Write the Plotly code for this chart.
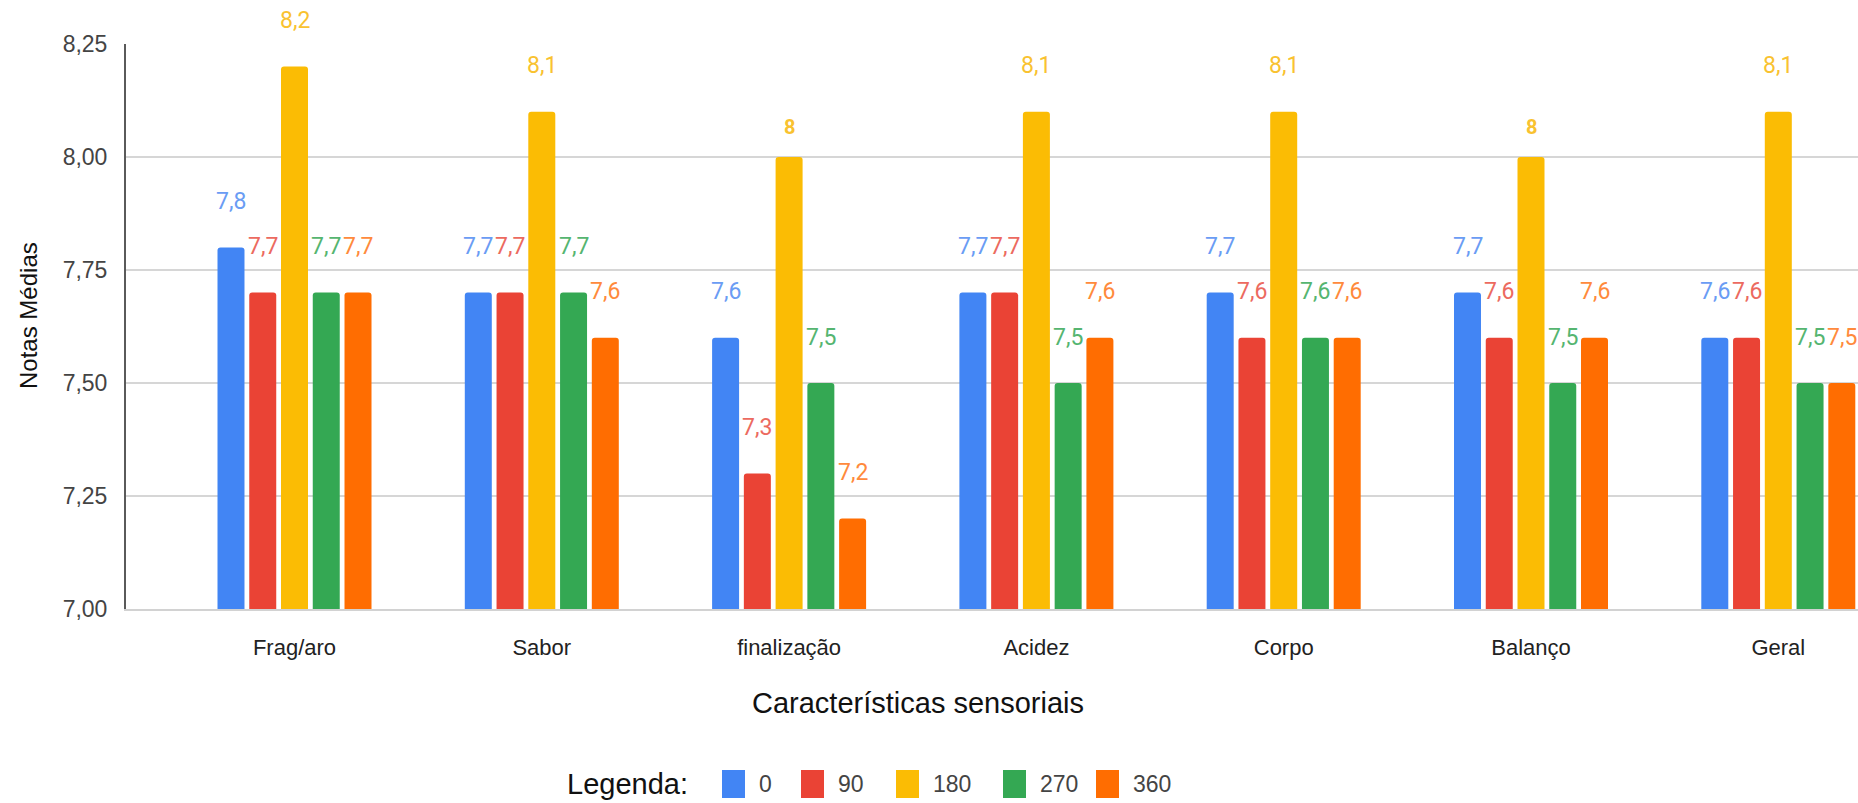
import plotly.graph_objects as go

# Sensory scores per attribute and storage time
categories = ["Frag/aro", "Sabor", "finalização", "Acidez", "Corpo", "Balanço", "Geral"]
series_names = ["0", "90", "180", "270", "360"]
s0 = [7.8, 7.7, 7.6, 7.7, 7.7, 7.7, 7.6]
s90 = [7.7, 7.7, 7.3, 7.7, 7.6, 7.6, 7.6]
s180 = [8.2, 8.1, 8.0, 8.1, 8.1, 8.0, 8.1]
s270 = [7.7, 7.7, 7.5, 7.5, 7.6, 7.5, 7.5]
s360 = [7.7, 7.6, 7.2, 7.6, 7.6, 7.6, 7.5]
y_ticks = [7.0, 7.25, 7.5, 7.75, 8.0, 8.25]

series_values = [s0, s90, s180, s270, s360]
bar_colors = ["#4285F4", "#EA4335", "#FBBC04", "#34A853", "#FF6D01"]
label_colors = ["#6A9CF4", "#EC6A60", "#F9C230", "#55B570", "#FF8A3C"]

W, H = 1858, 803
L, R, T, B = 126, 0, 44, 194
plot_w = W - L - R
plot_h = H - T - B
pitch = 247.3            # pixels per category
first_center = 294.5     # pixel x of first category
x0 = -(first_center - L) / pitch
x1 = x0 + plot_w / pitch
bar_slot = 31.75         # pixel distance between neighbouring bars in a group


def px_x(px):
    return (px - L) / plot_w


def px_y(py):
    return (H - B - py) / plot_h


def fmt(v):
    return f"{v:g}".replace(".", ",")


fig = go.Figure()
for name, vals, col in zip(series_names, series_values, bar_colors):
    fig.add_trace(go.Bar(
        x=categories, y=vals, name=name,
        marker=dict(color=col, line=dict(width=0)),
        showlegend=False, hoverinfo="x+y+name",
    ))

annotations = []
# value labels above each bar
for i, (vals, lc) in enumerate(zip(series_values, label_colors)):
    for cat, v in zip(categories, vals):
        whole = float(v).is_integer()
        annotations.append(dict(
            x=cat, y=v, xref="x", yref="y",
            text=fmt(v), showarrow=False,
            xshift=(i - 2) * bar_slot,
            yshift=30 if whole else 46,
            yanchor="middle", xanchor="center",
            font=dict(family="Roboto", size=20 if whole else 23, color=lc,
                      weight="bold" if whole else "normal"),
        ))

# axis titles
annotations.append(dict(
    x=px_x(918), y=px_y(703), xref="paper", yref="paper",
    text="Características sensoriais", showarrow=False,
    xanchor="center", yanchor="middle",
    font=dict(family="Liberation Sans, Arial", size=29, color="#111111"),
))
annotations.append(dict(
    x=px_x(28), y=px_y(316), xref="paper", yref="paper",
    text="Notas Médias", showarrow=False, textangle=-90,
    xanchor="center", yanchor="middle",
    font=dict(family="Liberation Sans, Arial", size=24, color="#111111"),
))

# legend
legend_y = 784
annotations.append(dict(
    x=px_x(565), y=px_y(legend_y), xref="paper", yref="paper",
    text="Legenda:", showarrow=False, xanchor="left", yanchor="middle",
    font=dict(family="Liberation Sans, Arial", size=29, color="#111111"),
))
legend_box_x = [722, 801, 896, 1003, 1096]
shapes = []
for bx, name, col in zip(legend_box_x, series_names, bar_colors):
    shapes.append(dict(
        type="rect", xref="paper", yref="paper",
        x0=px_x(bx), x1=px_x(bx + 23),
        y0=px_y(legend_y + 14), y1=px_y(legend_y - 14),
        fillcolor=col, line=dict(width=0),
    ))
    annotations.append(dict(
        x=px_x(bx + 35), y=px_y(legend_y), xref="paper", yref="paper",
        text=name, showarrow=False, xanchor="left", yanchor="middle",
        font=dict(family="Liberation Sans, Arial", size=23, color="#444444"),
    ))

fig.update_layout(
    width=W, height=H,
    margin=dict(l=L, r=R, t=T, b=B, pad=0),
    paper_bgcolor="white", plot_bgcolor="white",
    barmode="group", bargap=0.358, bargroupgap=0.15,
    barcornerradius=3,
    separators=",.",
    showlegend=False,
    annotations=annotations,
    shapes=shapes,
    xaxis=dict(
        range=[x0, x1], showgrid=False,
        showline=True, linecolor="#d2d2d2", linewidth=2,
        ticks="", ticklabelstandoff=18,
        tickfont=dict(family="Liberation Sans, Arial", size=22, color="#222222"),
        fixedrange=True,
    ),
    yaxis=dict(
        range=[7.0, 8.25], tickvals=y_ticks, tickformat=".2f",
        showgrid=True, gridcolor="#d6d6d6", gridwidth=1.5,
        showline=True, linecolor="#5a5a5a", linewidth=2,
        ticks="", ticklabelstandoff=12, zeroline=False,
        tickfont=dict(family="Liberation Sans, Arial", size=23, color="#444444"),
        fixedrange=True,
    ),
)

fig.write_html("out.html", config={"displayModeBar": False})
